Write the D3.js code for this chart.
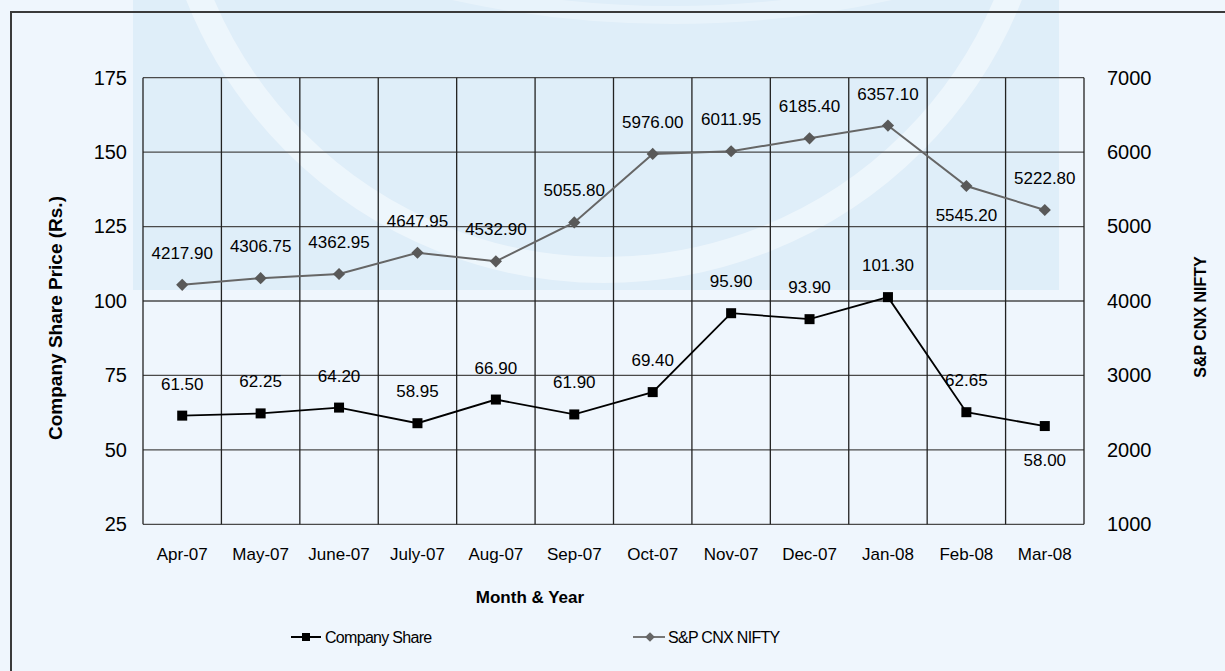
<!DOCTYPE html>
<html>
<head>
<meta charset="utf-8">
<script src="https://cdn.jsdelivr.net/npm/d3@7"></script>
<style>
  body { margin: 0; background: #eff6fd; }
  svg { display: block; font-family: "Liberation Sans", Arial, sans-serif; }
</style>
</head>
<body>
<div id="chart"></div>
<script>
// data
const months = ['Apr-07', 'May-07', 'June-07', 'July-07', 'Aug-07', 'Sep-07',
                'Oct-07', 'Nov-07', 'Dec-07', 'Jan-08', 'Feb-08', 'Mar-08']
const share = [61.50, 62.25, 64.20, 58.95, 66.90, 61.90, 69.40, 95.90, 93.90, 101.30, 62.65, 58.00]
const nifty = [4217.90, 4306.75, 4362.95, 4647.95, 4532.90, 5055.80, 5976.00, 6011.95, 6185.40, 6357.10, 5545.20, 5222.80]
const leftTicks = [25, 50, 75, 100, 125, 150, 175]
const rightTicks = [1000, 2000, 3000, 4000, 5000, 6000, 7000]
const shareBelow = ['Mar-08']   // labels drawn under the point
const niftyBelow = ['Feb-08']

const dim = { width: 1225, height: 671 }
const plot = { left: 143, right: 1084, top: 77.7, bottom: 524.3 }

const svg = d3.select('#chart')
    .append('svg')
    .attr('width', dim.width)
    .attr('height', dim.height)

// background watermark
svg.append('rect')
    .attr('x', 133).attr('y', 0)
    .attr('width', 926).attr('height', 290)
    .attr('fill', '#dfeef9')
svg.append('circle')
    .attr('cx', 604).attr('cy', -167).attr('r', 437)
    .attr('fill', 'none')
    .attr('stroke', '#fff').attr('stroke-opacity', 0.45)
    .attr('stroke-width', 26)
svg.append('circle')
    .attr('cx', 672).attr('cy', -990).attr('r', 1005)
    .attr('fill', 'none')
    .attr('stroke', '#fff').attr('stroke-opacity', 0.3)
    .attr('stroke-width', 18)

// frame (only top and left are inside the picture)
svg.append('path')
    .attr('d', `M11,${dim.height} V12 H${dim.width}`)
    .attr('fill', 'none')
    .attr('stroke', '#3a3a3a')
    .attr('stroke-width', 2)

// scales
const x = d3.scaleBand()
    .domain(months)
    .range([plot.left, plot.right])
const yL = d3.scaleLinear()
    .domain([25, 175])
    .range([plot.bottom, plot.top])
const yR = d3.scaleLinear()
    .domain([1000, 7000])
    .range([plot.bottom, plot.top])
const cx = d => x(d) + x.bandwidth() / 2

// grid
const grid = svg.append('g')
grid.selectAll('line.h')
    .data(leftTicks)
    .join('line')
    .attr('class', 'h')
    .attr('x1', plot.left).attr('x2', plot.right)
    .attr('y1', d => yL(d)).attr('y2', d => yL(d))
    .attr('stroke', '#4a4a4a').attr('stroke-width', 1.3)
grid.selectAll('line.v')
    .data(months.concat(['end']))
    .join('line')
    .attr('class', 'v')
    .attr('x1', (d, i) => plot.left + i * x.bandwidth())
    .attr('x2', (d, i) => plot.left + i * x.bandwidth())
    .attr('y1', plot.top).attr('y2', plot.bottom)
    .attr('stroke', '#222').attr('stroke-width', 1.3)

// axes
const axL = svg.append('g')
    .attr('transform', `translate(${plot.left},0)`)
    .call(d3.axisLeft(yL).tickValues(leftTicks).tickSize(0).tickPadding(16))
const axR = svg.append('g')
    .attr('transform', `translate(${plot.right},0)`)
    .call(d3.axisRight(yR).tickValues(rightTicks).tickFormat(d3.format('d')).tickSize(0).tickPadding(23))
const axB = svg.append('g')
    .attr('transform', `translate(0,${plot.bottom})`)
    .call(d3.axisBottom(x).tickSize(0).tickPadding(24))
;[axL, axR, axB].forEach(a => {
    a.select('.domain').remove()
    a.selectAll('text').attr('fill', '#000').style('font-family', '"Liberation Sans", Arial, sans-serif')
})
axL.selectAll('text').style('font-size', '20px')
axR.selectAll('text').style('font-size', '20px')
axB.selectAll('text').style('font-size', '17px')

// axis titles
svg.append('text')
    .attr('transform', 'translate(62,318) rotate(-90)')
    .attr('text-anchor', 'middle')
    .style('font-size', '19px').style('font-weight', 'bold')
    .text('Company Share Price (Rs.)')
svg.append('text')
    .attr('transform', 'translate(1206,317) rotate(-90)')
    .attr('text-anchor', 'middle')
    .style('font-size', '16px').style('font-weight', 'bold')
    .text('S&P CNX NIFTY')
svg.append('text')
    .attr('x', 530).attr('y', 603)
    .attr('text-anchor', 'middle')
    .style('font-size', '17px').style('font-weight', 'bold')
    .text('Month & Year')

// NIFTY series
const niftyData = months.map((m, i) => ({ m, v: nifty[i] }))
svg.append('path')
    .datum(niftyData)
    .attr('fill', 'none')
    .attr('stroke', '#666')
    .attr('stroke-width', 2)
    .attr('d', d3.line().x(d => cx(d.m)).y(d => yR(d.v)))
svg.selectAll('path.dia')
    .data(niftyData)
    .join('path')
    .attr('class', 'dia')
    .attr('transform', d => `translate(${cx(d.m)},${yR(d.v)})`)
    .attr('d', d3.symbol(d3.symbolDiamond2, 95))
    .attr('fill', '#595959')
svg.selectAll('text.nl')
    .data(niftyData)
    .join('text')
    .attr('class', 'nl')
    .attr('x', d => cx(d.m))
    .attr('y', d => yR(d.v) + (niftyBelow.includes(d.m) ? 35 : -26))
    .attr('text-anchor', 'middle')
    .style('font-size', '17px')
    .text(d => d.v.toFixed(2))

// Company share series
const shareData = months.map((m, i) => ({ m, v: share[i] }))
svg.append('path')
    .datum(shareData)
    .attr('fill', 'none')
    .attr('stroke', '#000')
    .attr('stroke-width', 1.8)
    .attr('d', d3.line().x(d => cx(d.m)).y(d => yL(d.v)))
svg.selectAll('rect.sq')
    .data(shareData)
    .join('rect')
    .attr('class', 'sq')
    .attr('x', d => cx(d.m) - 5)
    .attr('y', d => yL(d.v) - 5)
    .attr('width', 10).attr('height', 10)
    .attr('fill', '#000')
svg.selectAll('text.sl')
    .data(shareData)
    .join('text')
    .attr('class', 'sl')
    .attr('x', d => cx(d.m))
    .attr('y', d => yL(d.v) + (shareBelow.includes(d.m) ? 40 : -26))
    .attr('text-anchor', 'middle')
    .style('font-size', '17px')
    .text(d => d.v.toFixed(2))

// legend
const legend = svg.append('g').attr('transform', 'translate(0,637)')
legend.append('line')
    .attr('x1', 291).attr('x2', 321).attr('y1', 0).attr('y2', 0)
    .attr('stroke', '#000').attr('stroke-width', 2)
legend.append('rect')
    .attr('x', 302).attr('y', -4).attr('width', 8).attr('height', 8)
    .attr('fill', '#000')
legend.append('text')
    .attr('x', 325).attr('y', 6)
    .style('font-size', '16px').style('letter-spacing', '-0.7px')
    .text('Company Share')
legend.append('line')
    .attr('x1', 633).attr('x2', 665).attr('y1', 0).attr('y2', 0)
    .attr('stroke', '#777').attr('stroke-width', 2)
legend.append('path')
    .attr('transform', 'translate(650,0)')
    .attr('d', d3.symbol(d3.symbolDiamond2, 60))
    .attr('fill', '#666')
legend.append('text')
    .attr('x', 668).attr('y', 6)
    .style('font-size', '16px').style('letter-spacing', '-0.7px')
    .text('S&P CNX NIFTY')
</script>
</body>
</html>
